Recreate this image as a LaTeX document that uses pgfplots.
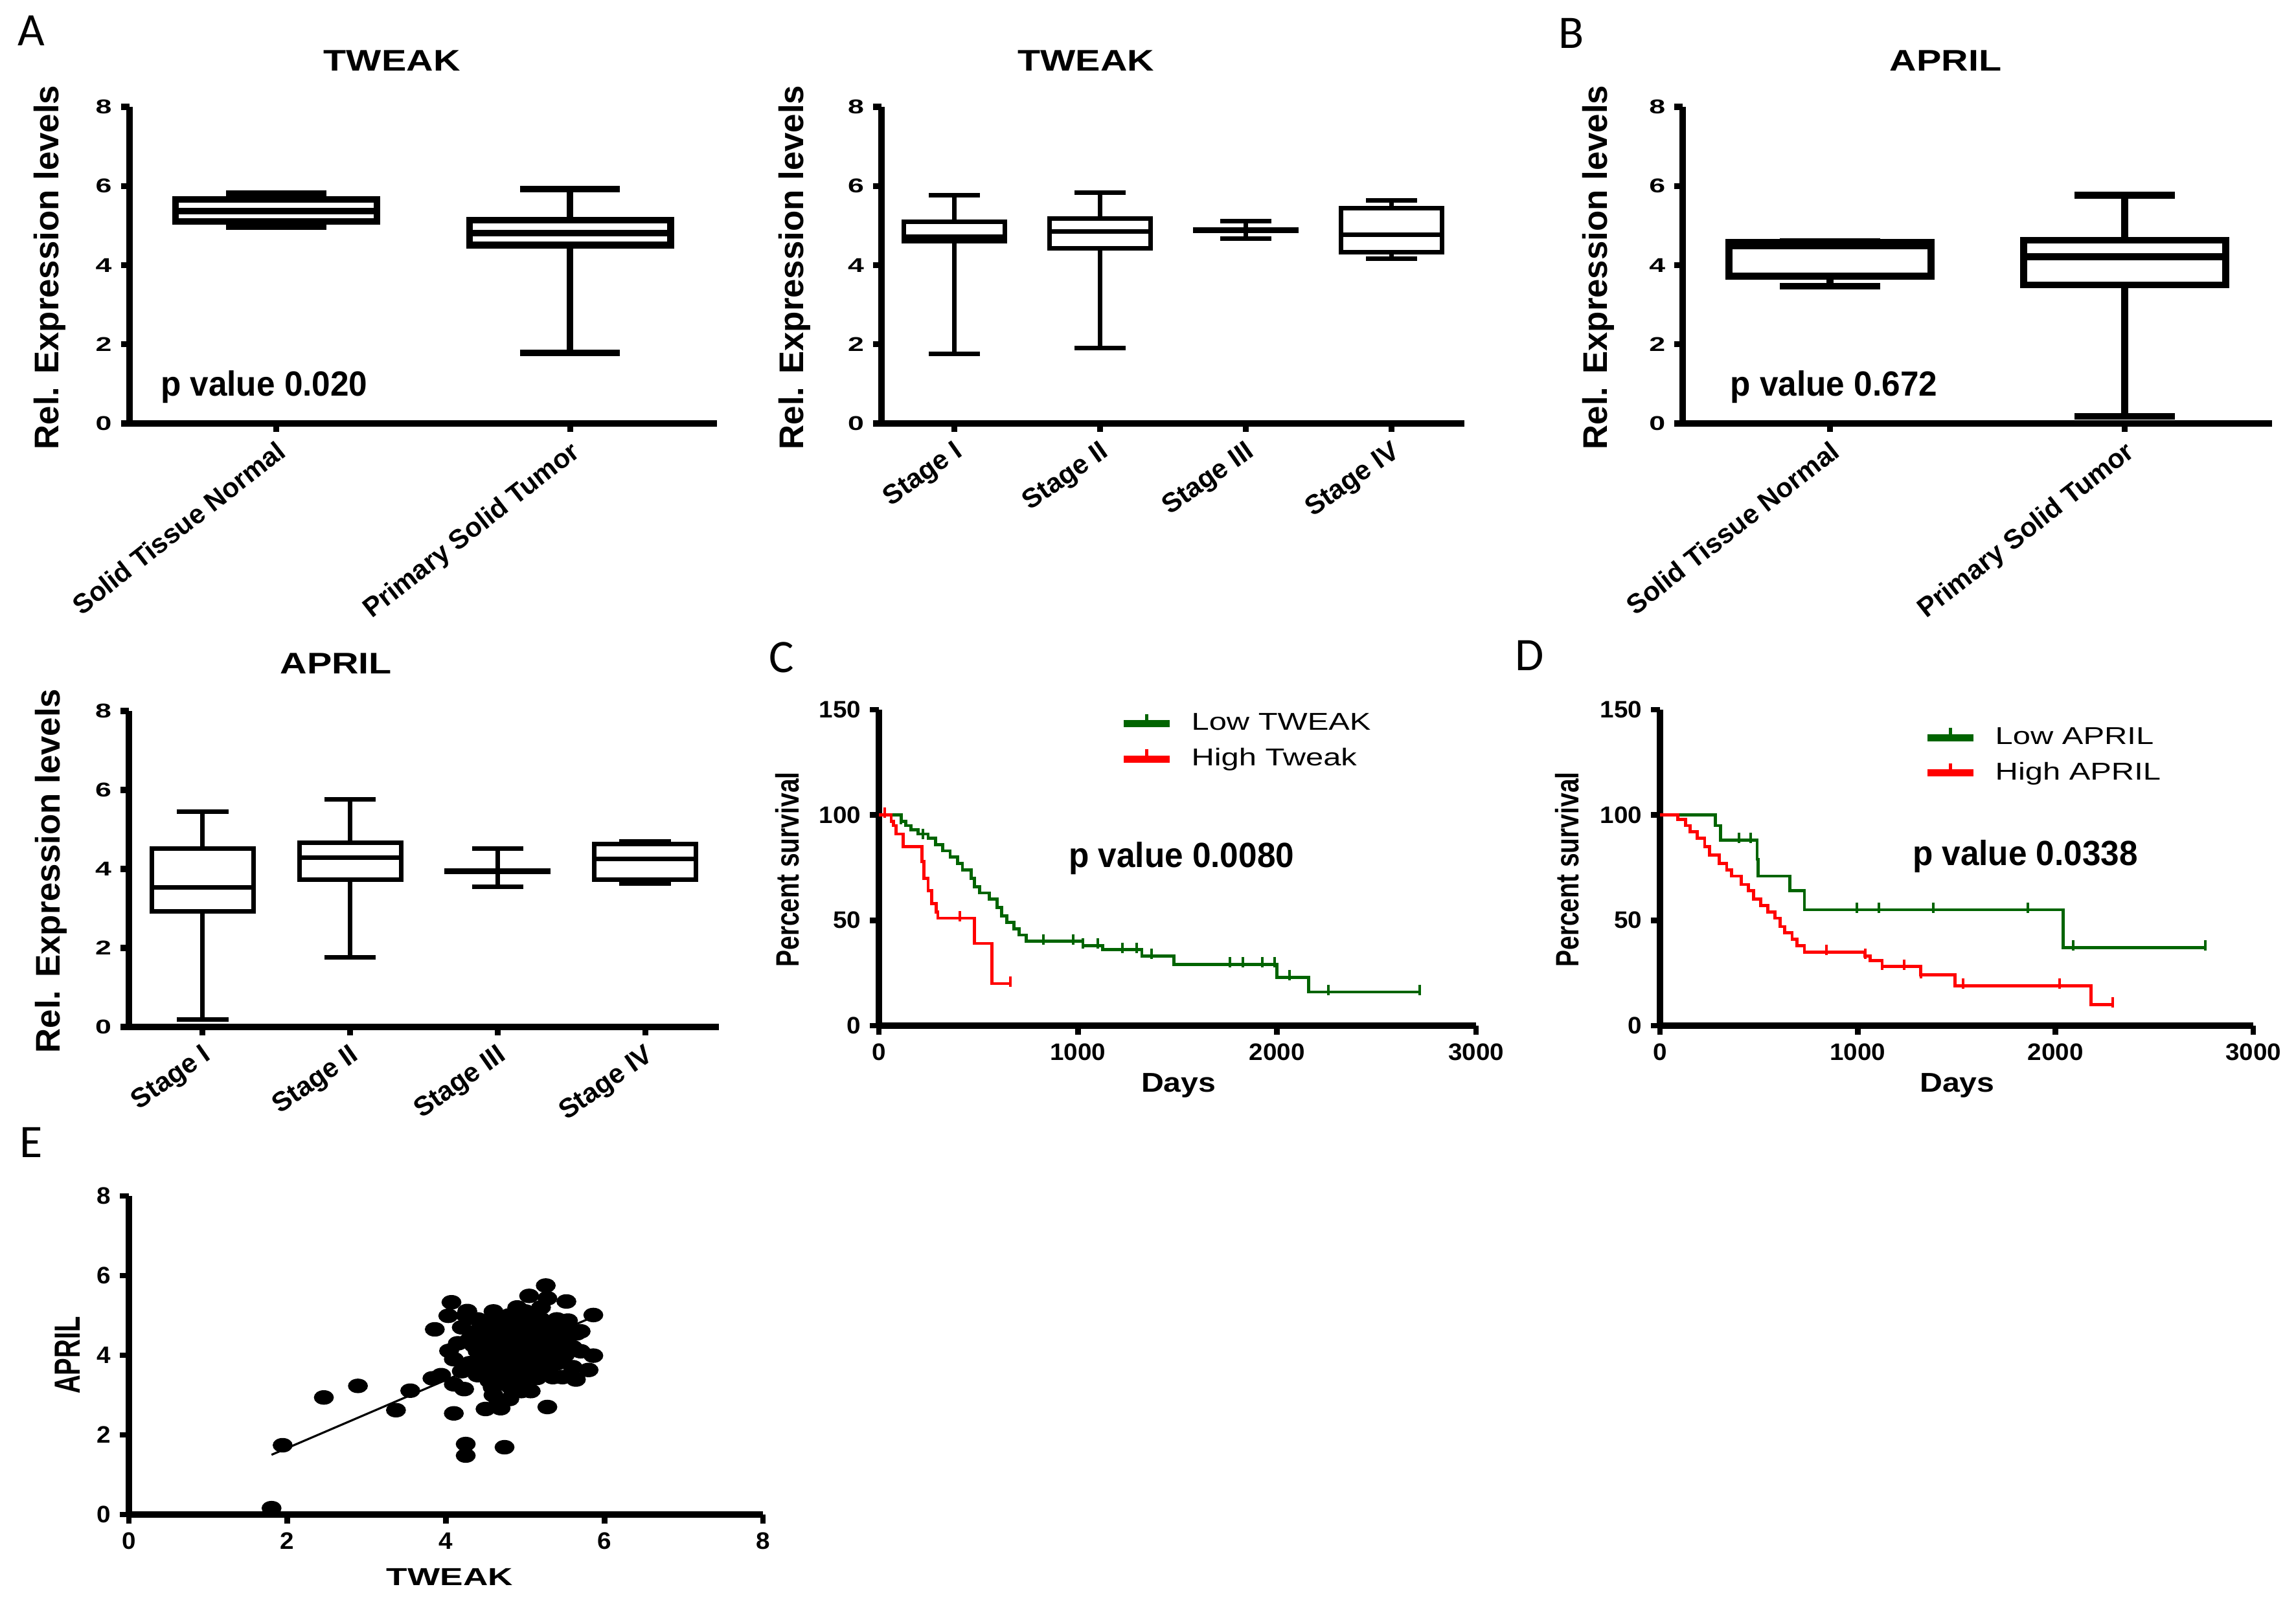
\documentclass[border=0pt]{standalone}
\usepackage{fontspec}
\setmainfont{Liberation Sans}
\newfontfamily\fWa[FakeStretch=1.25]{Liberation Sans}
\newfontfamily\fBt[FakeStretch=1.45]{Liberation Sans}
\newfontfamily\fP[FakeStretch=0.95]{Liberation Sans}
\newfontfamily\fKt[FakeStretch=1.05]{Liberation Sans}
\newfontfamily\fKx[FakeStretch=1.15]{Liberation Sans}
\newfontfamily\fKy[FakeStretch=0.78]{Liberation Sans}
\newfontfamily\fLg[FakeStretch=1.3]{Liberation Sans}
\newfontfamily\fEt[FakeStretch=1.4]{Liberation Sans}
\newfontfamily\fEy[FakeStretch=0.714]{Liberation Sans}
\newfontfamily\fC{Carlito}
\usepackage{pgfplots}
\usepgfplotslibrary{statistics}
\pgfplotsset{compat=1.18}
\definecolor{kmgreen}{RGB}{0,100,0}
\definecolor{kmred}{RGB}{255,0,0}
\tikzset{pv/.style={font=\fP\bfseries\fontsize{13.5}{15}\selectfont}}
\pgfplotsset{
  gp/.style={scale only axis, anchor=south west, axis lines=left,
    axis line style={-, line width=2.5pt}, tick align=outside, major tick length=3.2pt,
    tick style={black, line width=2.3pt}, enlargelimits=false, clip=false,
    /pgf/number format/assume math mode=true, /pgf/number format/1000 sep={},
    scaled ticks=false, minor tick num=0, boxplot/draw direction=y},
  boxA/.style={gp, ymin=0, ymax=8, ytick={0,2,4,6,8}, xmin=0.5, xmax=2.5, xtick={1,2},
    tick label style={font=\fBt\bfseries\fontsize{7.7}{9}\selectfont},
    xticklabel style={font=\bfseries\fontsize{10.5}{12}\selectfont, anchor=north east, inner sep=2pt},
    title style={anchor=center, yshift=-6pt, font=\fWa\bfseries\fontsize{11.5}{13}\selectfont},
    ylabel={Rel. Expression levels},
    ylabel style={anchor=center, font=\bfseries\fontsize{13.2}{15}\selectfont}},
  boxT/.style={boxA, xticklabel style={rotate=38}},
  boxS/.style={boxA, xmin=0.5, xmax=4.5, xtick={1,2,3,4},
    xticklabels={Stage I,Stage II,Stage III,Stage IV},
    xticklabel style={rotate=35}},
  km/.style={gp, axis line style={line width=2.3pt}, tick style={line width=2.1pt},
    major tick length=3.4pt,
    xmin=0, xmax=3000, ymin=0, ymax=150, xtick={0,1000,2000,3000}, ytick={0,50,100,150},
    tick label style={font=\fKt\bfseries\fontsize{9.2}{10}\selectfont},
    xlabel={Days}, ylabel={Percent survival},
    xlabel style={anchor=center, font=\fKx\bfseries\fontsize{10.5}{12}\selectfont},
    ylabel style={anchor=center, font=\fKy\bfseries\fontsize{12.5}{14}\selectfont},
    legend style={draw=none, fill=none, inner sep=0pt, anchor=north west,
      cells={anchor=west}, font=\fLg\fontsize{9.4}{11}\selectfont, row sep=1.5pt},
    legend image code/.code={\draw[#1, line width=2.8pt] (0pt,0pt) -- (17.75pt,0pt);
      \draw[#1, line width=1.3pt] (8.9pt,0pt) -- (8.9pt,3.8pt);},
    /tikz/every odd column/.append style={column sep=5pt}},
  bx/.style={black, line width=2.6pt},
  bs/.style={black, line width=1.75pt},
  cen/.style={only marks, mark=|, mark size=2pt, line width=1pt, forget plot}
}
\begin{document}
\begin{tikzpicture}
\useasboundingbox (0,0) rectangle (886.25pt,617.75pt);
% panel letters
\node[font=\fC\fontsize{18}{20}\selectfont] at (12pt,606pt) {A};
\node[font=\fC\fontsize{18}{20}\selectfont] at (606.5pt,605pt) {B};
\node[font=\fC\fontsize{18}{20}\selectfont] at (301.75pt,364pt) {C};
\node[font=\fC\fontsize{18}{20}\selectfont] at (590.5pt,364.75pt) {D};
\node[font=\fC\fontsize{18}{20}\selectfont] at (12pt,176.75pt) {E};

% ---------- A1: TWEAK normal vs tumor
\begin{axis}[boxT, at={(49.875pt,454.25pt)}, width=226.875pt, height=122.25pt,
  title={TWEAK}, title style={at={(0.447,1.145)}},
  ylabel style={at={(axis description cs:-0.135,0.493)}},
  xticklabels={Solid Tissue Normal,Primary Solid Tumor}]
\addplot[bx, boxplot prepared={lower whisker=4.97, lower quartile=5.10, median=5.37,
  upper quartile=5.66, upper whisker=5.80, draw position=1, box extend=0.685, whisker extend=0.34}] coordinates {};
\addplot[bx, boxplot prepared={lower whisker=1.78, lower quartile=4.51, median=4.81,
  upper quartile=5.14, upper whisker=5.92, draw position=2, box extend=0.685, whisker extend=0.34}] coordinates {};
\node[pv] at (axis cs:0.959,0.93) {p value 0.020};
\end{axis}

% ---------- A2: TWEAK stages
\begin{axis}[boxS, at={(340.25pt,454.25pt)}, width=225pt, height=122.25pt,
  title={TWEAK}, title style={at={(0.351,1.145)}},
  ylabel style={at={(axis description cs:-0.149,0.493)}}]
\addplot[bs, boxplot prepared={lower whisker=1.76, lower quartile=4.60, median=4.72,
  upper quartile=5.10, upper whisker=5.76, draw position=1, box extend=0.69, whisker extend=0.35}] coordinates {};
\addplot[bs, boxplot prepared={lower whisker=1.90, lower quartile=4.43, median=4.85,
  upper quartile=5.17, upper whisker=5.84, draw position=2, box extend=0.69, whisker extend=0.35}] coordinates {};
\addplot[bs, boxplot prepared={lower whisker=4.67, lower quartile=4.86, median=4.88,
  upper quartile=4.90, upper whisker=5.12, draw position=3, box extend=0.69, whisker extend=0.35}] coordinates {};
\addplot[bs, boxplot prepared={lower whisker=4.16, lower quartile=4.32, median=4.77,
  upper quartile=5.44, upper whisker=5.63, draw position=4, box extend=0.69, whisker extend=0.35}] coordinates {};
\end{axis}

% ---------- B: APRIL normal vs tumor
\begin{axis}[boxT, at={(649.5pt,454.25pt)}, width=227.5pt, height=122.25pt,
  title={APRIL}, title style={at={(0.446,1.145)}},
  ylabel style={at={(axis description cs:-0.143,0.493)}},
  xticklabels={Solid Tissue Normal,Primary Solid Tumor}]
\addplot[bx, boxplot prepared={lower whisker=3.47, lower quartile=3.72, median=4.48,
  upper quartile=4.58, upper whisker=4.60, draw position=1, box extend=0.685, whisker extend=0.34}] coordinates {};
\addplot[bx, boxplot prepared={lower whisker=0.18, lower quartile=3.50, median=4.21,
  upper quartile=4.63, upper whisker=5.77, draw position=2, box extend=0.685, whisker extend=0.34}] coordinates {};
\node[pv] at (axis cs:1.013,0.93) {p value 0.672};
\end{axis}

% ---------- A3: APRIL stages
\begin{axis}[boxS, at={(49.75pt,221.25pt)}, width=227.75pt, height=122pt,
  title={APRIL}, title style={at={(0.351,1.150)}},
  ylabel style={at={(axis description cs:-0.132,0.494)}}]
\addplot[bs, boxplot prepared={lower whisker=0.19, lower quartile=2.92, median=3.53,
  upper quartile=4.51, upper whisker=5.45, draw position=1, box extend=0.69, whisker extend=0.35}] coordinates {};
\addplot[bs, boxplot prepared={lower whisker=1.76, lower quartile=3.73, median=4.29,
  upper quartile=4.67, upper whisker=5.76, draw position=2, box extend=0.69, whisker extend=0.35}] coordinates {};
\addplot[bs, boxplot prepared={lower whisker=3.55, lower quartile=3.92, median=3.94,
  upper quartile=3.96, upper whisker=4.51, draw position=3, box extend=0.69, whisker extend=0.35}] coordinates {};
\addplot[bs, boxplot prepared={lower whisker=3.63, lower quartile=3.73, median=4.25,
  upper quartile=4.63, upper whisker=4.69, draw position=4, box extend=0.69, whisker extend=0.35}] coordinates {};
\end{axis}

% ---------- C: survival TWEAK
\begin{axis}[km, at={(339.25pt,221.75pt)}, width=230.5pt, height=122pt,
  xlabel style={at={(axis description cs:0.502,-0.189)}},
  ylabel style={at={(axis description cs:-0.153,0.494)}},
  legend style={at={(axis description cs:0.403,1.006)}}]
\addlegendimage{kmgreen}\addlegendentry{Low TWEAK}
\addlegendimage{kmred}\addlegendentry{High Tweak}
\addplot[kmgreen, line width=1.2pt, const plot, forget plot] coordinates {
(0,100) (111,97) (136,95) (160,93) (198,91) (247,89) (284,86) (321,83) (358,80)
(395,77) (420,74) (464,70) (481,66) (506,63) (556,60) (593,56) (617,52) (642,49)
(679,46) (704,43) (741,40) (1025,38) (1123,36) (1321,33) (1481,29) (2000,23)
(2160,16) (2716,16)};
\addplot[kmgreen, cen] coordinates {
(111,98) (222,91) (827,41) (975,41) (1025,39) (1099,39) (1222,37) (1296,37) (1370,34)
(1765,30) (1827,30) (1926,30) (1988,30) (2062,24) (2259,17) (2716,17)};
\addplot[kmred, line width=1.2pt, const plot, forget plot] coordinates {
(0,100) (62,97) (74,95) (86,91) (123,85) (217,78) (227,70) (247,64) (264,58)
(289,54) (296,51) (481,39) (568,20) (659,20)};
\addplot[kmred, cen] coordinates {(30,101) (407,52) (659,21)};
\node[pv] at (axis cs:1520,79.3) {p value 0.0080};
\end{axis}

% ---------- D: survival APRIL
\begin{axis}[km, at={(640.75pt,221.75pt)}, width=229pt, height=122pt,
  xlabel style={at={(axis description cs:0.501,-0.189)}},
  ylabel style={at={(axis description cs:-0.157,0.494)}},
  legend style={at={(axis description cs:0.444,0.962)}}]
\addlegendimage{kmgreen}\addlegendentry{Low APRIL}
\addlegendimage{kmred}\addlegendentry{High APRIL}
\addplot[kmgreen, line width=1.2pt, const plot, forget plot] coordinates {
(0,100) (280,95) (307,88) (491,79) (496,71) (656,64) (730,55) (2039,37) (2757,37)};
\addplot[kmgreen, cen] coordinates {
(398,89) (459,89) (995,56) (1106,56) (1381,56) (1860,56) (2088,38) (2757,38)};
\addplot[kmred, line width=1.2pt, const plot, forget plot] coordinates {
(0,100) (91,98) (128,95) (152,92) (189,89) (226,85) (251,81) (300,77) (337,74)
(361,71) (410,67) (447,64) (472,60) (509,57) (545,54) (582,51) (607,47) (631,44)
(668,41) (693,38) (730,35) (1037,33) (1062,31) (1123,28) (1319,24) (1491,19)
(2179,10) (2290,10)};
\addplot[kmred, cen] coordinates {
(840,36) (1037,34) (1123,29) (1233,29) (1319,25) (1533,20) (2020,20) (2290,11)};
\node[pv] at (axis cs:1847,80.5) {p value 0.0338};
\end{axis}

% ---------- E: scatter
\begin{axis}[gp, axis line style={line width=2.4pt}, tick style={line width=2.2pt},
  major tick length=3.4pt,
  at={(49.75pt,33pt)}, width=244.75pt, height=123pt,
  xmin=0, xmax=8, ymin=0, ymax=8, xtick={0,2,4,6,8}, ytick={0,2,4,6,8},
  tick label style={font=\fKt\bfseries\fontsize{9.2}{10}\selectfont},
  xlabel={TWEAK}, ylabel={APRIL},
  xlabel style={at={(axis description cs:0.506,-0.195)}, anchor=center, font=\fEt\bfseries\fontsize{9.5}{11}\selectfont},
  ylabel style={at={(axis description cs:-0.097,0.5)}, anchor=center, font=\fEy\bfseries\fontsize{14}{16}\selectfont}]
\addplot[only marks, mark=*, mark size=2.6pt, mark options={xscale=1.4, fill=black, draw=black}] coordinates {
(1.80,0.16) (1.94,1.74) (2.46,2.94) (2.89,3.23) (3.37,2.62) (3.55,3.11) (3.83,3.42)
(3.94,3.50) (3.86,4.65) (4.03,4.99) (4.07,5.33) (4.27,5.11) (4.04,4.11) (4.10,3.27)
(4.10,2.54) (4.23,3.15) (4.25,1.77) (4.25,1.48) (4.50,2.65) (4.59,3.19) (4.66,2.87)
(4.69,2.67) (4.74,1.69) (4.82,3.19) (5.07,3.10) (5.05,5.49) (5.26,5.75) (5.28,5.43)
(5.52,5.35) (5.28,2.70) (5.86,5.01) (5.86,3.99) (5.80,3.63) (5.64,3.39) (5.47,3.45)
(5.65,4.55) (5.54,4.87) (5.15,3.43) (4.92,3.35)
(4.3,4.4) (4.4,4.6) (4.4,4.1) (4.5,4.8) (4.5,4.3) (4.5,3.9) (4.6,4.5) (4.6,4.0)
(4.6,3.6) (4.7,4.9) (4.7,4.6) (4.7,4.2) (4.7,3.8) (4.7,3.4) (4.8,5.0) (4.8,4.7)
(4.8,4.4) (4.8,4.1) (4.8,3.7) (4.9,4.9) (4.9,4.5) (4.9,4.2) (4.9,3.9) (4.9,3.5)
(5.0,4.8) (5.0,4.6) (5.0,4.3) (5.0,4.0) (5.0,3.7) (5.1,5.0) (5.1,4.7) (5.1,4.4)
(5.1,4.1) (5.1,3.8) (5.2,4.9) (5.2,4.5) (5.2,4.2) (5.2,3.9) (5.3,4.7) (5.3,4.3)
(5.3,4.0) (5.3,3.6) (5.4,4.6) (5.4,4.2) (5.4,3.8) (5.5,4.4) (5.5,4.0) (5.6,4.2)
(4.3,3.8) (4.4,3.5) (4.2,4.7) (4.2,3.6) (4.6,5.1) (4.9,5.2) (5.0,5.1) (5.2,5.2)
(4.4,4.9) (4.6,4.8) (5.4,4.9) (5.5,4.7) (4.55,3.35) (4.85,3.3) (5.15,3.55) (5.35,3.45)
(4.65,4.35) (4.75,4.05) (4.95,4.15) (5.05,4.45) (4.85,4.55) (4.75,4.75) (5.25,4.6)
(5.45,4.35) (4.35,4.25) (4.45,3.75) (5.6,3.7) (5.7,4.1) (5.7,4.6) (4.15,4.3) (4.1,3.9)
(4.25,5.0) (5.05,3.45) (4.95,3.1) (4.6,3.0) (4.8,2.9)};
\addplot[black, line width=0.8pt] coordinates {(1.8,1.5) (5.9,5.0)};
\end{axis}
\end{tikzpicture}
\end{document}
